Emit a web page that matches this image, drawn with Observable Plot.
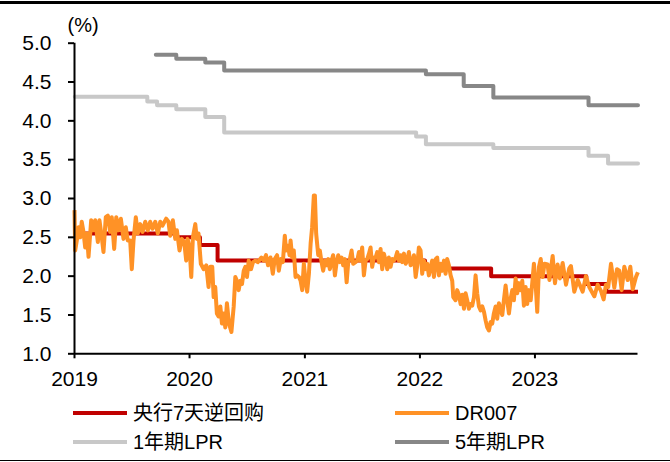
<!DOCTYPE html>
<html><head><meta charset="utf-8">
<script src="https://cdn.jsdelivr.net/npm/d3@7"></script>
<script src="https://cdn.jsdelivr.net/npm/@observablehq/plot@0.6"></script>
<style>
body{margin:0;background:#fff;font-family:"Liberation Sans",Arial,"Noto Sans CJK SC",sans-serif;}
#wrap{position:relative;width:670px;height:462px;overflow:hidden;background:#fff;}
.topline{position:absolute;left:0;top:1px;width:670px;height:3px;background:#000;}
.botline{position:absolute;left:0;top:460px;width:670px;height:1px;background:#000;}
#chart{position:absolute;left:0;top:0;}
.lg{position:absolute;display:flex;align-items:center;font-size:20px;color:#000;height:24px;line-height:24px;white-space:nowrap;}
.sw{width:54px;height:4px;margin-right:6px;}
</style></head>
<body>
<div id="wrap">
  <div id="chart"></div>
  <div class="topline"></div>
  <div id="legend"></div>
  <div class="botline"></div>
</div>
<script>
// ---- data ----
const yearTicks = ["2019", "2020", "2021", "2022", "2023"];
const yTicks = [1.0, 1.5, 2.0, 2.5, 3.0, 3.5, 4.0, 4.5, 5.0];

const seriesNames = ["央行7天逆回购", "DR007", "1年期LPR", "5年期LPR"];
const seriesColors = ["#C00000", "#FF9226", "#C8C8C8", "#878787"];

const policyDates = ["2019-01-02","2019-11-18","2020-02-03","2020-03-30","2022-01-17","2022-08-15","2023-06-13","2023-08-15","2023-11-24"];
const policyRates = [2.55, 2.50, 2.40, 2.20, 2.10, 2.00, 1.90, 1.80, 1.80];

const lpr1Dates = ["2019-01-02","2019-08-20","2019-09-20","2019-11-20","2020-02-20","2020-04-20","2021-12-20","2022-01-20","2022-08-22","2023-06-20","2023-08-21","2023-11-24"];
const lpr1Rates = [4.31, 4.25, 4.20, 4.15, 4.05, 3.85, 3.80, 3.70, 3.65, 3.55, 3.45, 3.45];

const lpr5Dates = ["2019-09-16","2019-11-20","2020-02-20","2020-04-20","2022-01-20","2022-05-20","2022-08-22","2023-06-20","2023-11-24"];
const lpr5Rates = [4.85, 4.80, 4.75, 4.65, 4.60, 4.45, 4.30, 4.20, 4.20];

// DR007: time as decimal year
const drTime = [
2019.000,2019.006,2019.020,2019.035,2019.050,2019.063,2019.078,2019.093,2019.107,2019.122,
2019.145,2019.165,2019.180,2019.203,2019.217,2019.237,2019.252,2019.272,2019.290,2019.310,
2019.324,2019.345,2019.363,2019.383,2019.403,2019.426,2019.446,2019.463,2019.484,2019.498,
2019.513,2019.533,2019.550,2019.571,2019.591,2019.615,2019.637,2019.658,2019.678,2019.702,
2019.724,2019.745,2019.765,2019.797,2019.817,2019.832,2019.855,2019.876,2019.890,2019.913,
2019.933,2019.954,2019.971,2019.983,2020.000,2020.015,2020.029,2020.050,2020.063,2020.078,
2020.098,2020.122,2020.145,2020.165,2020.180,2020.197,2020.209,2020.223,2020.237,2020.252,
2020.267,2020.281,2020.296,2020.310,2020.324,2020.342,2020.363,2020.383,2020.397,2020.411,
2020.426,2020.441,2020.455,2020.470,2020.484,2020.498,2020.513,2020.533,2020.550,2020.571,
2020.591,2020.623,2020.643,2020.663,2020.681,2020.702,2020.722,2020.739,2020.759,2020.774,
2020.791,2020.809,2020.826,2020.837,2020.855,2020.867,2020.876,2020.890,2020.904,2020.919,
2020.933,2020.948,2020.963,2020.977,2020.991,2021.006,2021.020,2021.035,2021.050,2021.063,
2021.078,2021.087,2021.098,2021.116,2021.130,2021.145,2021.159,2021.174,2021.189,2021.203,
2021.217,2021.232,2021.246,2021.261,2021.276,2021.290,2021.304,2021.319,2021.333,2021.348,
2021.363,2021.377,2021.391,2021.406,2021.420,2021.441,2021.455,2021.470,2021.484,2021.498,
2021.513,2021.528,2021.542,2021.557,2021.571,2021.585,2021.600,2021.615,2021.629,2021.643,
2021.658,2021.672,2021.687,2021.702,2021.716,2021.730,2021.745,2021.759,2021.774,2021.789,
2021.803,2021.817,2021.832,2021.846,2021.861,2021.876,2021.890,2021.904,2021.919,2021.933,
2021.948,2021.963,2021.977,2021.991,2022.006,2022.020,2022.035,2022.050,2022.063,2022.078,
2022.093,2022.107,2022.122,2022.137,2022.150,2022.165,2022.180,2022.194,2022.209,2022.223,
2022.237,2022.252,2022.267,2022.281,2022.290,2022.310,2022.324,2022.339,2022.354,2022.368,
2022.383,2022.397,2022.411,2022.426,2022.441,2022.455,2022.470,2022.484,2022.498,2022.513,
2022.528,2022.542,2022.557,2022.571,2022.585,2022.600,2022.615,2022.629,2022.643,2022.658,
2022.672,2022.687,2022.702,2022.716,2022.730,2022.745,2022.759,2022.774,2022.789,2022.803,
2022.817,2022.832,2022.846,2022.861,2022.876,2022.890,2022.904,2022.919,2022.933,2022.948,
2022.963,2022.977,2022.991,2023.006,2023.020,2023.035,2023.050,2023.067,2023.083,2023.110,
2023.126,2023.154,2023.174,2023.197,2023.217,2023.241,2023.270,2023.298,2023.313,2023.342,
2023.372,2023.415,2023.443,2023.472,2023.516,2023.545,2023.574,2023.597,2023.617,2023.637,
2023.661,2023.690,2023.713,2023.733,2023.754,2023.777,2023.806,2023.829,2023.850,2023.878,
2023.895
];
const drValues = [
2.85,2.33,2.46,2.63,2.50,2.70,2.57,2.37,2.55,2.25,
2.72,2.59,2.72,2.44,2.72,2.50,2.31,2.76,2.78,2.57,
2.76,2.35,2.76,2.59,2.74,2.48,2.63,2.46,2.46,2.09,
2.46,2.76,2.55,2.67,2.57,2.70,2.59,2.70,2.61,2.70,
2.55,2.70,2.65,2.74,2.70,2.52,2.72,2.48,2.59,2.33,
2.48,2.44,2.20,2.48,2.37,1.99,2.50,2.67,2.48,2.55,
2.16,2.09,2.14,1.86,2.12,2.12,1.73,1.86,1.52,1.48,
1.61,1.39,1.52,1.34,1.65,1.39,1.28,1.61,1.99,1.94,
1.82,1.94,1.90,2.07,2.12,1.99,2.20,2.09,2.18,2.20,
2.18,2.24,2.20,2.27,2.14,2.24,2.03,2.22,2.27,2.07,
2.22,2.18,2.52,2.33,2.39,2.27,2.46,2.24,2.33,1.99,
2.01,1.99,1.94,1.82,2.16,1.94,1.80,2.03,2.42,2.63,
3.04,3.04,2.55,2.27,2.33,2.18,2.07,2.20,2.14,2.22,
2.09,2.20,2.27,2.01,2.18,2.27,2.18,2.24,2.14,2.22,
1.92,2.18,2.22,2.33,2.16,2.18,2.20,2.31,2.20,2.37,
2.01,2.20,2.22,2.29,2.37,2.12,2.24,2.24,2.31,2.18,
2.35,2.09,2.29,2.20,2.09,2.24,2.12,2.22,2.20,2.24,
2.31,2.20,2.27,2.18,2.29,2.16,2.20,2.31,2.14,2.16,
2.27,1.99,2.14,2.37,2.33,2.03,2.20,2.09,2.16,2.01,
2.12,2.20,1.99,2.22,2.24,2.01,2.16,2.07,2.20,2.03,
2.22,2.14,2.01,1.94,1.73,1.69,1.82,1.76,1.64,1.76,
1.58,1.78,1.69,1.58,1.64,1.62,1.73,2.01,1.78,1.61,
1.56,1.61,1.54,1.43,1.34,1.30,1.41,1.39,1.52,1.61,
1.45,1.65,1.56,1.50,1.69,1.88,1.69,1.52,1.71,1.82,
1.69,1.97,1.78,1.91,1.82,1.94,1.62,1.86,1.64,1.82,
1.69,1.92,2.16,1.90,1.54,2.12,2.22,1.99,2.16,2.15,
1.95,2.26,1.91,2.15,1.97,2.17,1.89,2.10,2.13,1.80,
1.95,1.80,2.00,1.86,1.74,1.89,1.81,1.70,1.89,1.86,
2.16,1.85,2.09,2.07,1.82,2.12,1.95,2.12,1.83,1.99,
2.05
];

// ---- build tables ----
function yearToDate(t) {
  const y = Math.floor(t);
  const s = Date.UTC(y, 0, 1), e = Date.UTC(y + 1, 0, 1);
  return new Date(s + (t - y) * (e - s));
}
const toRows = (dates, vals) => dates.map((d, i) => ({date: new Date(d), value: vals[i]}));
const policy = toRows(policyDates, policyRates);
const lpr1 = toRows(lpr1Dates, lpr1Rates);
const lpr5 = toRows(lpr5Dates, lpr5Rates);
const dr = drTime.map((t, i) => ({date: yearToDate(t), value: drValues[i]}));
const xTicks = yearTicks.map(y => new Date(Date.UTC(+y, 0, 1)));

const font = '"Liberation Sans", Arial, sans-serif';
const lw = 4;

const plot = Plot.plot({
  width: 670,
  height: 400,
  marginTop: 42.7,
  marginBottom: 46.7,
  marginLeft: 74,
  marginRight: 32.5,
  style: {fontFamily: font, fontSize: "21px", color: "#000", background: "transparent", overflow: "visible"},
  x: {type: "utc", domain: [new Date(Date.UTC(2019, 0, 1)), new Date(Date.UTC(2023, 10, 24))]},
  y: {domain: [1, 5]},
  marks: [
    Plot.line(lpr1, {x: "date", y: "value", curve: "step-after", stroke: seriesColors[2], strokeWidth: lw, strokeLinecap: "round"}),
    Plot.line(lpr5, {x: "date", y: "value", curve: "step-after", stroke: seriesColors[3], strokeWidth: lw, strokeLinecap: "round"}),
    Plot.line(policy, {x: "date", y: "value", curve: "step-after", stroke: seriesColors[0], strokeWidth: lw, strokeLinecap: "butt"}),
    Plot.line(dr, {x: "date", y: "value", stroke: seriesColors[1], strokeWidth: lw, strokeLinejoin: "round", strokeLinecap: "butt"}),
    Plot.axisY({ticks: yTicks, tickFormat: d => d.toFixed(1), tickSize: 6, tickPadding: 17, strokeWidth: 2, label: null, fontSize: 21}),
    Plot.axisX({ticks: xTicks, tickFormat: d3.utcFormat("%Y"), tickSize: 5, tickPadding: 12, strokeWidth: 2, label: null, fontSize: 21}),
    Plot.ruleY([1], {stroke: "#000", strokeWidth: 2}),
    Plot.ruleX([new Date(Date.UTC(2019, 0, 1))], {stroke: "#000", strokeWidth: 2}),
    Plot.text(["(%)"], {frameAnchor: "top-left", text: d => d, dx: -7, dy: -25, textAnchor: "start", fontSize: 20})
  ]
});
document.getElementById("chart").appendChild(plot);

// ---- legend (HTML, below the plot) ----
const legendPos = [
  {left: 73, top: 401}, {left: 395, top: 401},
  {left: 73, top: 430}, {left: 395, top: 430}
];
const lg = document.getElementById("legend");
seriesNames.forEach((name, i) => {
  const item = document.createElement("div");
  item.className = "lg";
  item.style.left = legendPos[i].left + "px";
  item.style.top = legendPos[i].top + "px";
  const sw = document.createElement("span");
  sw.className = "sw";
  sw.style.background = seriesColors[i];
  const tx = document.createElement("span");
  tx.textContent = name;
  item.appendChild(sw);
  item.appendChild(tx);
  lg.appendChild(item);
});
</script>
</body></html>
